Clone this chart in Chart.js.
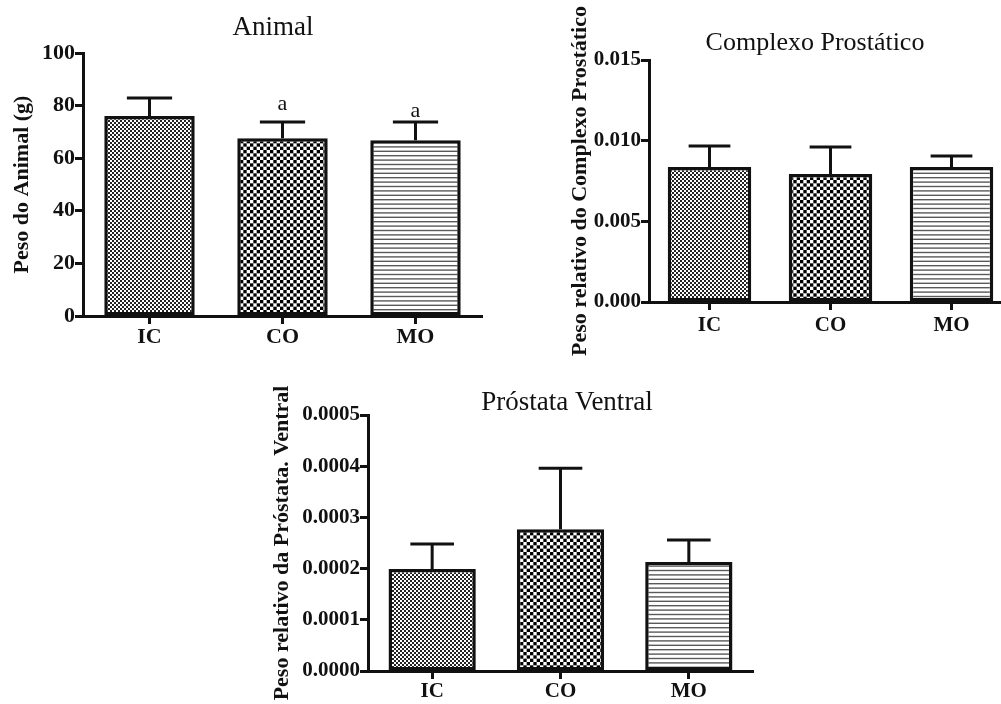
<!DOCTYPE html>
<html><head><meta charset="utf-8">
<script src="https://cdn.jsdelivr.net/npm/chart.js@4.4.1/dist/chart.umd.min.js"></script>
<style>
html,body{margin:0;padding:0;background:#fff;overflow:hidden;width:1001px;height:704px;position:relative;}
.box{position:absolute;}
canvas{display:block;}
</style></head><body>
<div class="box" style="left:0;top:0;"><canvas id="c1" width="500" height="360"></canvas></div>
<div class="box" style="left:560px;top:0;"><canvas id="c2" width="460" height="362"></canvas></div>
<div class="box" style="left:240px;top:362px;"><canvas id="c3" width="540" height="342"></canvas></div>
<script>
// ---------- data ----------
const categories = ['IC', 'CO', 'MO'];

const animalTitle = 'Animal';
const animalAxisTitle = 'Peso do Animal (g)';
const animalMeans = [76.0, 67.6, 66.8];
const animalErrTop = [82.9, 73.8, 73.8];
const animalMarks = ['', 'a', 'a'];
const animalTicks = [0, 20, 40, 60, 80, 100];

const complexoTitle = 'Complexo Prostático';
const complexoAxisTitle = 'Peso relativo do Complexo Prostático';
const complexoMeans = [0.00837, 0.00793, 0.00837];
const complexoErrTop = [0.00967, 0.00961, 0.00905];
const complexoTicks = [0, 0.005, 0.010, 0.015];

const ventralTitle = 'Próstata Ventral';
const ventralAxisTitle = 'Peso relativo da Próstata. Ventral';
const ventralMeans = [0.000199, 0.000277, 0.000213];
const ventralErrTop = [0.000248, 0.000396, 0.000256];
const ventralTicks = [0, 0.0001, 0.0002, 0.0003, 0.0004, 0.0005];

// ---------- patterns ----------
function patFine() {
  const c = document.createElement('canvas'); c.width = 4; c.height = 4;
  const g = c.getContext('2d');
  g.fillStyle = '#fff'; g.fillRect(0, 0, 4, 4);
  g.fillStyle = '#222'; g.fillRect(0, 0, 2, 2); g.fillRect(2, 2, 2, 2);
  return g.createPattern(c, 'repeat');
}
function patCoarse() {
  const c = document.createElement('canvas'); c.width = 20; c.height = 20;
  const g = c.getContext('2d');
  g.fillStyle = '#fff'; g.fillRect(0, 0, 20, 20);
  g.fillStyle = '#000';
  const s = 20 / 6;
  for (let r = 0; r < 6; r++) for (let k = 0; k < 6; k++) if ((r + k) % 2 === 0) g.fillRect(k * s, r * s, s, s);
  return g.createPattern(c, 'repeat');
}
function patLines() {
  const c = document.createElement('canvas'); c.width = 10; c.height = 22;
  const g = c.getContext('2d');
  g.fillStyle = '#fff'; g.fillRect(0, 0, 10, 22);
  g.fillStyle = '#5a5a5a';
  for (let i = 0; i < 5; i++) g.fillRect(0, i * 4.4 + 1, 10, 1.4);
  return g.createPattern(c, 'repeat');
}
const fills = [patFine(), patCoarse(), patLines()];

// ---------- plugins ----------
const errorBars = {
  id: 'errorBars',
  afterDatasetsDraw(chart, args, opts) {
    const meta = chart.getDatasetMeta(0);
    const ys = chart.scales.y;
    const ctx = chart.ctx;
    ctx.save();
    ctx.strokeStyle = '#111'; ctx.lineWidth = 3;
    meta.data.forEach((bar, i) => {
      const top = ys.getPixelForValue(opts.tops[i]);
      const half = bar.width / 4;
      ctx.beginPath();
      ctx.moveTo(bar.x, bar.y); ctx.lineTo(bar.x, top);
      ctx.moveTo(bar.x - half, top); ctx.lineTo(bar.x + half, top);
      ctx.stroke();
      if (opts.marks && opts.marks[i]) {
        ctx.fillStyle = '#111';
        ctx.font = '22px "Liberation Serif"';
        ctx.textAlign = 'center'; ctx.textBaseline = 'alphabetic';
        ctx.fillText(opts.marks[i], bar.x, top - opts.markGap[i]);
      }
    });
    ctx.restore();
  }
};
const panelTitle = {
  id: 'panelTitle',
  afterDraw(chart, args, opts) {
    const ctx = chart.ctx;
    ctx.save();
    ctx.fillStyle = '#111';
    ctx.font = opts.size + 'px "Liberation Serif"';
    ctx.textAlign = 'center'; ctx.textBaseline = 'alphabetic';
    ctx.fillText(opts.text, opts.x, opts.y);
    ctx.restore();
  }
};

function makeChart(id, cfg) {
  const tickFont = { family: 'Liberation Serif', size: cfg.font, weight: 'bold' };
  const titleFont = { family: 'Liberation Serif', size: 22, weight: 'bold' };
  return new Chart(document.getElementById(id), {
    type: 'bar',
    data: {
      labels: categories,
      datasets: [{
        data: cfg.means,
        backgroundColor: fills,
        borderColor: '#111',
        borderWidth: 3.5,
        borderSkipped: false,
        categoryPercentage: 1,
        barPercentage: cfg.barPct
      }]
    },
    plugins: [errorBars, panelTitle],
    options: {
      responsive: false,
      animation: false,
      layout: { padding: cfg.pad },
      plugins: {
        legend: { display: false },
        tooltip: { enabled: false },
        title: { display: false },
        errorBars: { tops: cfg.tops, marks: cfg.marks, markGap: cfg.markGap },
        panelTitle: cfg.title
      },
      scales: {
        x: {
          offset: true,
          grid: { display: true, drawOnChartArea: false, drawTicks: true, offset: false, tickLength: 8, tickWidth: 3, tickColor: '#111' },
          border: { display: true, color: '#111', width: 3 },
          ticks: { color: '#111', font: tickFont, padding: cfg.xPad, maxRotation: 0 },
          afterFit: s => { s.height = cfg.xH; }
        },
        y: {
          min: 0, max: cfg.ticks[cfg.ticks.length - 1],
          afterBuildTicks: s => { s.ticks = cfg.ticks.map(v => ({ value: v })); },
          grid: { display: true, drawOnChartArea: false, drawTicks: true, tickLength: 8, tickWidth: 3, tickColor: '#111' },
          border: { display: true, color: '#111', width: 3 },
          ticks: { color: '#111', font: tickFont, padding: 0, callback: v => Number(v).toFixed(cfg.dec) },
          title: { display: true, text: cfg.axisTitle, color: '#111', font: titleFont, padding: { top: cfg.tPad, bottom: 0 } },
          afterFit: s => { s.width = cfg.yW; }
        }
      }
    }
  });
}

makeChart('c1', {
  means: animalMeans, tops: animalErrTop, marks: animalMarks, markGap: [0, 12, 5],
  ticks: animalTicks, dec: 0, font: 22, barPct: 0.68,
  axisTitle: animalAxisTitle, tPad: 9,
  pad: { left: 0, top: 53, right: 18, bottom: 0 }, yW: 83, xH: 44, xPad: 0,
  title: { text: animalTitle, x: 273, y: 35, size: 27 }
});
makeChart('c2', {
  means: complexoMeans, tops: complexoErrTop, marks: null, markGap: null,
  ticks: complexoTicks, dec: 3, font: 21, barPct: 0.69,
  axisTitle: complexoAxisTitle, tPad: 7,
  pad: { left: 0, top: 60, right: 8, bottom: 0 }, yW: 89, xH: 60, xPad: 3,
  title: { text: complexoTitle, x: 255, y: 50, size: 26 }
});
makeChart('c3', {
  means: ventralMeans, tops: ventralErrTop, marks: null, markGap: null,
  ticks: ventralTicks, dec: 4, font: 21, barPct: 0.68,
  axisTitle: ventralAxisTitle, tPad: 29,
  pad: { left: 0, top: 53, right: 27, bottom: 0 }, yW: 128, xH: 33, xPad: 0,
  title: { text: ventralTitle, x: 327, y: 48, size: 27 }
});
</script>
</body></html>
